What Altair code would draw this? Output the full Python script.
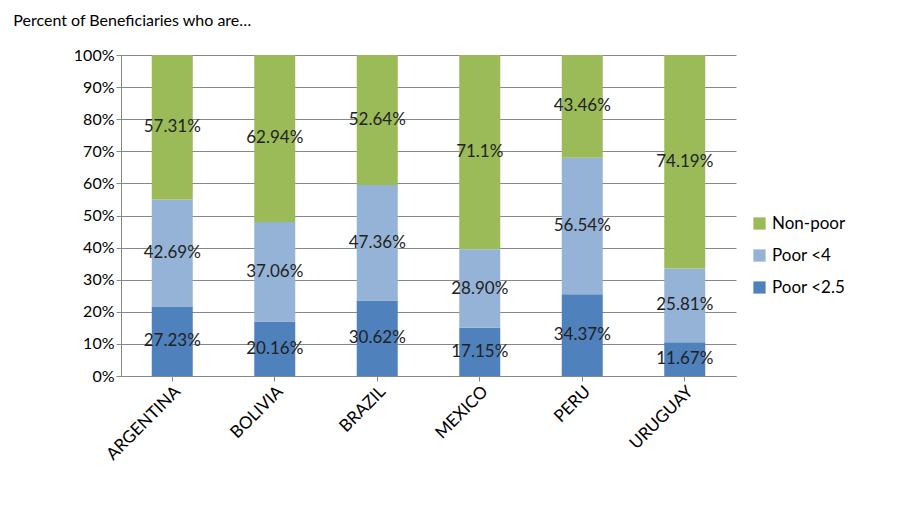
import altair as alt
import pandas as pd

countries = ["ARGENTINA", "BOLIVIA", "BRAZIL", "MEXICO", "PERU", "URUGUAY"]
series = ["Poor <2.5", "Poor <4", "Non-poor"]
# segment heights (percent points)
poor25 = [21.5, 17.0, 23.5, 15.0, 25.5, 10.5]
poor4 = [33.5, 31.0, 36.0, 24.5, 42.5, 23.0]
nonpoor = [45.0, 52.0, 40.5, 60.5, 32.0, 66.5]
# printed labels
lab25 = ["27.23%", "20.16%", "30.62%", "17.15%", "34.37%", "11.67%"]
lab4 = ["42.69%", "37.06%", "47.36%", "28.90%", "56.54%", "25.81%"]
labnp = ["57.31%", "62.94%", "52.64%", "71.1%", "43.46%", "74.19%"]

rows = []
for i, c in enumerate(countries):
    for k, (s, v, l) in enumerate(zip(series, [poor25[i], poor4[i], nonpoor[i]],
                                      [lab25[i], lab4[i], labnp[i]])):
        rows.append({"country": c, "series": s, "value": v / 100, "label": l, "ord": k})
df = pd.DataFrame(rows)

color = alt.Color("series:N", title=None,
                  scale=alt.Scale(domain=["Non-poor", "Poor <4", "Poor <2.5"],
                                  range=["#9BBB59", "#95B3D7", "#4F81BD"]),
                  legend=alt.Legend(labelFontSize=17, symbolType="square", symbolSize=150,
                                    rowPadding=14, labelFont="Lato", orient="none",
                                    legendX=630, legendY=160))

yaxis = alt.Axis(format=".0%", values=[i / 10 for i in range(11)],
                 labelOverlap=False, labelFontSize=16, labelFont="Lato",
                 labelColor="black", gridColor="#888", domainColor="#888",
                 tickColor="#888")

base = alt.Chart(df).encode(
    x=alt.X("country:N", sort=countries, title=None,
            scale=alt.Scale(paddingInner=0.6, paddingOuter=0.3),
            axis=alt.Axis(labelAngle=-45, labelFontSize=17, labelFont="Lato",
                          labelColor="black", domainColor="#888", tickColor="#888")),
)

bars = base.mark_bar().encode(
    y=alt.Y("value:Q", stack="zero", title=None,
            scale=alt.Scale(domain=[0, 1]), axis=yaxis),
    color=color,
    order=alt.Order("ord:Q"),
)

text = base.transform_stack(
    stack="value", groupby=["country"], as_=["y0", "y1"], sort=[alt.SortField("ord")]
).transform_calculate(mid="(datum.y0 + datum.y1) / 2").mark_text(
    fontSize=17, font="Lato", color="#222"
).encode(y=alt.Y("mid:Q", axis=yaxis), text="label:N")

chart = (bars + text).properties(
    width=615, height=321,
    title=alt.Title("Percent of Beneficiaries who are…", anchor="start", fontSize=16,
                    font="Lato", fontWeight="normal", offset=18, dx=-60),
).configure_view(stroke=None)

chart.save("out.html", embed_options={"renderer": "svg", "actions": False})
